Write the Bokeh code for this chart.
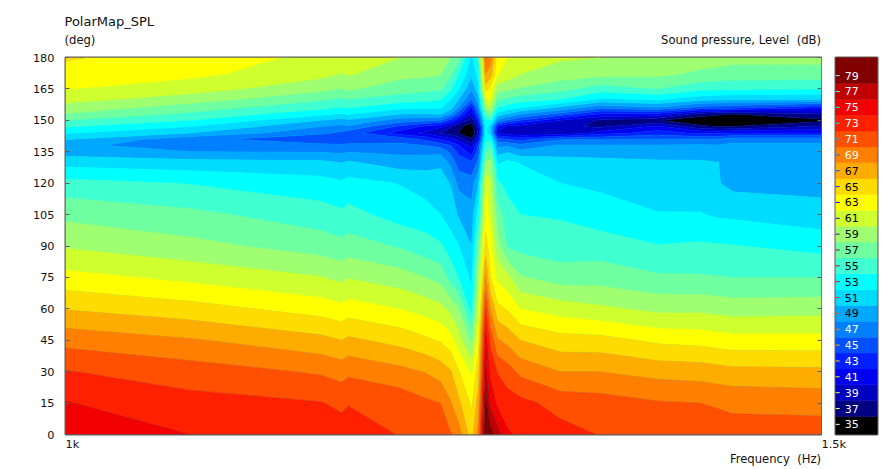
from bokeh.core.properties import value
from bokeh.embed import file_html
from bokeh.layouts import column, row
from bokeh.models import FixedTicker, LinearAxis
from bokeh.plotting import figure
from bokeh.resources import INLINE
import numpy as np

angles = [0, 15, 30, 45, 60, 75, 90, 105, 120, 130, 135, 138, 141, 144, 147, 150, 153, 156, 160, 165, 172, 180]
freqs = [1000, 1069.3, 1146.6, 1159.6, 1163.9, 1196.8, 1213.0, 1222.8, 1229.4, 1234.6, 1243.3, 1247.9,
         1252.7, 1256.0, 1260.7, 1267.5, 1276.4, 1304.1, 1332.3, 1373.7, 1405.7, 1419.4, 1430.1, 1500]

spl_1000 = [74.9,74.1,72.1,69.3,65.9,62.7,59.8,57.5,54.7,51.2,49.1,48.7,50.2,52.2,54.2,56,57.9,59.2,60.7,62.1,63.3,64.2]
spl_1069 = [74,72.7,71,68.2,64.8,61.5,58.6,56.5,53.9,50.7,48,46.4,46.6,50,52,54,55.6,57,59,60.9,62.5,63.1]
spl_1147 = [73.3,72.1,69.75,66.6,63.15,60.1,57.1,54.9,52.8,50.4,47.9,46.5,44.6,46.4,48,50,52.6,54.5,56.3,58.6,60.6,61.5]
spl_1160 = [72.9,71.6,69.2,66.0,62.6,59.5,56.6,54.4,52.3,49.9,47.6,46.4,44.2,45.6,47.3,49.3,51.8,53.8,55.7,57.9,59.9,60.9]
spl_1164 = [73,71.9,69.6,66.4,63,59.9,56.9,54.7,52.7,50.2,47.9,46.7,44.3,45,47.7,49.7,52.2,54.1,56,58.3,60.2,61.2]
spl_1197 = [71.9,71.3,68.6,65.3,62,58.9,55.8,53.1,51.9,49,47.5,46.5,45,41,43.5,47,50,52.4,55,56.9,58.6,60]
spl_1213 = [71.2,70.4,67.9,64.4,61.2,58,54.8,52.9,51,49.3,47.4,46,43.5,39.5,41.6,46.5,50,52.3,54.6,56.6,58.4,59.2]
spl_1223 = [71,70,67.1,63.8,60.6,57.3,54.3,52,50.7,49.7,47.3,45.3,41.7,37.8,40.4,46,50.2,52.2,54.2,56.3,58.1,58.5]
spl_1229 = [70.2,68.2,66.2,62.8,59.5,55.3,53,51,49.9,47.3,45.6,44,40.6,36.9,38.3,43.3,48,50.7,52,54.4,56.4,58]
spl_1235 = [69,66.5,64.2,61,58.2,54,52.1,49.8,47.4,45,43.5,42.2,39.3,36,36.5,40.7,44.9,48,50,52.2,54.1,56.7]
spl_1243 = [65,63.6,61.8,57.5,53.2,51.5,50,48.8,47,44.2,41,39,36.2,34,34.8,36.7,39.2,41.6,46,48.3,50.4,51.5]
spl_1248 = [69,67,65.2,63.3,60.9,59.2,56.8,53.2,50,46.5,45.1,44.3,41,38.3,39.2,42.7,45.3,47.6,49.2,51.5,52.8,55]
spl_1253 = [80.5,79,77,75.2,72.2,68.3,65,62.7,62,58.1,55.7,54.5,53.5,52.6,52.8,53.5,56.2,59,61.4,65,67.9,70.3]
spl_1256 = [79,75.6,73.6,71.5,68,64.1,62.8,61.6,60.4,58.7,56.9,55.2,53.5,50.3,50.5,54,57.2,59.9,62.2,63.4,66.9,69]
spl_1261 = [77,73.6,71.9,68.2,64.6,61.6,58.9,56.9,54.5,51.6,49.1,47.5,44.8,39.8,41.8,47.5,51.2,54,56.3,59,62.2,63]
spl_1268 = [74.3,72.9,71,67.4,63.8,60.6,55.8,55,53.3,52.4,49.8,47.7,44,38.8,39.5,45.7,49.8,53,55.7,58.4,61.3,62]
spl_1276 = [73.6,72.6,69.5,66,62,58.2,55.3,54,52.8,51.9,48.5,46.6,43.3,38.1,39,44,48.1,52,54.9,57.8,60,61]
spl_1304 = [72.8,71.2,68,64.8,61.1,57,54.9,53.8,52,50.6,49.4,48.2,45.8,37.9,38.5,40,45.3,49.5,54,56.7,59,60.3]
spl_1332 = [71.9,70.9,68,64.7,60.4,57.1,55,52.9,51.6,50.4,49.4,48.2,45.8,40.9,37.6,37.7,41.8,46.5,51.6,55,58.6,60]
spl_1374 = [71.3,70.2,67.3,63.6,59.5,56.3,54.1,52.1,51,50.2,49.3,48.2,45.9,43,40.4,36.2,41.5,47.7,52.2,56,58.4,59.3]
spl_1406 = [71.1,70,67.1,63.3,59.5,56.2,54.3,52.1,50.9,50.2,49.2,48.3,46,41.5,36.5,34.3,37,45,50.7,54.6,57.6,59]
spl_1419 = [70.9,69.8,66.8,63,59.3,56.1,54.2,51.7,50.1,50,49.1,48.2,46,41.5,36,34.2,36.4,44.8,50.5,54.4,57.4,58.8]
spl_1430 = [70.8,69.6,66.6,62.8,59.1,56,54.1,51.6,49.4,49.2,48.9,48.5,47,42,36,34.2,36,44.5,50.2,54.3,57.2,58.6]
spl_1500 = [71,69.3,66.5,62.8,59.2,56,53.3,50.8,49.3,49,48.8,48.5,47,42,38.4,35.5,38,42,50,54,57.1,58.7]

levels = [33, 36, 38, 40, 42, 44, 46, 48, 50, 52, 54, 56, 58, 60, 62, 64, 66, 68, 70, 72, 74, 76, 78, 85]
band_labels = ["35", "37", "39", "41", "43", "45", "47", "49", "51", "53", "55", "57",
               "59", "61", "63", "65", "67", "69", "71", "73", "75", "77", "79"]
band_values = [35, 37, 39, 41, 43, 45, 47, 49, 51, 53, 55, 57, 59, 61, 63, 65, 67, 69, 71, 73, 75, 77, 79]
palette = ["#000000", "#000080", "#0000bf", "#0000f0", "#0020ff", "#0050ff", "#0080ff", "#00a8ff",
           "#00dcff", "#00ffff", "#40ffd0", "#70ffa0", "#a0ff70", "#d0ff30", "#ffff00", "#ffdc00",
           "#ffac00", "#ff8000", "#ff5000", "#ff2000", "#f00000", "#c00000", "#800000"]
band_text_colors = ["white"] * 7 + ["black"] * 10 + ["white"] * 6
angle_ticks = [0, 15, 30, 45, 60, 75, 90, 105, 120, 135, 150, 165, 180]

FONT = "DejaVu Sans"
GRAY = "#5f5f5f"
INK = "#111111"
z = np.array([spl_1000, spl_1069, spl_1147, spl_1160, spl_1164, spl_1197, spl_1213, spl_1223, spl_1229, spl_1235,
              spl_1243, spl_1248, spl_1253, spl_1256, spl_1261, spl_1268, spl_1276, spl_1304, spl_1332, spl_1374,
              spl_1406, spl_1419, spl_1430, spl_1500]).T

# Two transparent text strips that overlap the plots' borders by 6px, so the plots keep room for "180" and "0".
def strip(height, top, margin):
    s = figure(width=888, height=height, x_range=(0, 888), y_range=(top + height, top), toolbar_location=None,
               output_backend="svg", min_border=0, margin=margin,
               background_fill_color=None, border_fill_color=None)
    s.axis.visible = False
    s.grid.visible = False
    s.outline_line_color = None
    return s


def note(fig, text, x, y, align="left", size="11.6px"):
    fig.text(x=[x], y=[y], text=[text], text_align=align, text_baseline="middle", text_font=value(FONT),
             text_font_size=size, text_color=INK)


header = strip(55, 0, (0, 0, -6, 0))
note(header, "PolarMap_SPL", 64, 21, size="13px")
note(header, "(deg)", 64, 39)
note(header, "Sound pressure, Level \u00a0(dB)", 820.5, 39, "right")

footer = strip(31, 436, (-6, 0, 0, 0))
note(footer, "1k", 65, 444, size="11.3px")
note(footer, "1.5k", 821, 444, size="11.3px")
note(footer, "Frequency \u00a0(Hz)", 820.5, 458, "right")

p = figure(width=822, height=393, x_axis_type="log", x_range=(1000, 1500), y_range=(0, 180),
           toolbar_location=None, output_backend="svg",
           min_border_left=65, min_border_right=1, min_border_top=8, min_border_bottom=8)
p.grid.visible = False
p.outline_line_color = GRAY
p.outline_line_width = 2
p.background_fill_color = "#00ffff"
p.contour(freqs, angles, z, levels, fill_color=palette, line_color=palette + ["#800000"], line_width=0.6)
p.xaxis.visible = False

p.yaxis.ticker = FixedTicker(ticks=angle_ticks)
p.yaxis.major_tick_in = 4
p.yaxis.major_tick_out = 0
p.yaxis.minor_tick_line_color = None
p.yaxis.major_tick_line_color = GRAY
p.yaxis.axis_line_color = None
p.yaxis.major_label_text_font = FONT
p.yaxis.major_label_text_font_size = "11.3px"
p.yaxis.major_label_text_color = INK
p.yaxis.major_label_standoff = 11

right = LinearAxis(ticker=FixedTicker(ticks=angle_ticks), major_label_overrides={t: "" for t in angle_ticks},
                   major_tick_in=4, major_tick_out=0, minor_tick_line_color=None,
                   major_tick_line_color=GRAY, axis_line_color=None, major_label_standoff=0,
                   major_label_text_font_size="1px")
p.add_layout(right, "right")

bar = figure(width=60, height=393, x_range=(0, 1), y_range=(33.72, 81.29), toolbar_location=None,
             output_backend="svg", min_border_left=13, min_border_right=5, min_border_top=8, min_border_bottom=8)
bar.axis.visible = False
bar.grid.visible = False
bar.outline_line_color = GRAY
bar.outline_line_width = 2
inverted = ["#%06x" % (0xffffff - int(c[1:], 16)) for c in palette]
bar.quad(left=0, right=1, bottom=levels[:-1], top=levels[1:], fill_color=palette, line_color=palette, line_width=0.5)
bar.segment(x0=0, x1=0.1, y0=band_values, y1=band_values, line_color=inverted, line_width=1)
bar.text(x=0.22, y=band_values, text=band_labels, text_color=band_text_colors, text_baseline="middle",
         text_font=value(FONT), text_font_size="11px")

page = column(header, row(p, bar, spacing=0), footer, spacing=0)
open("out.html", "w").write(file_html(page, INLINE))
